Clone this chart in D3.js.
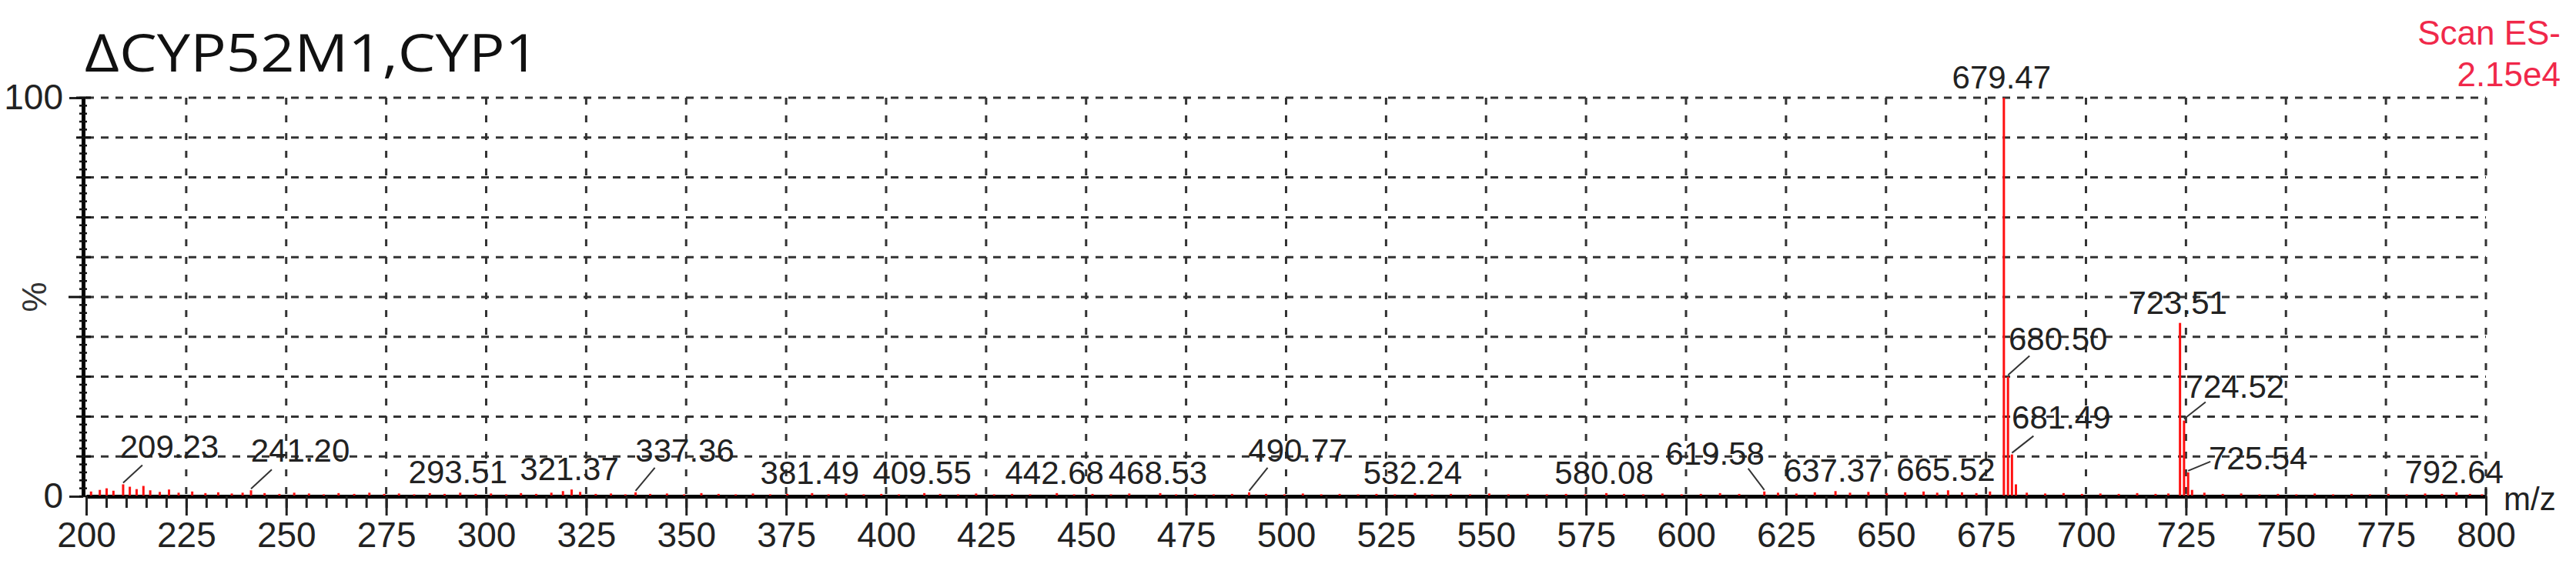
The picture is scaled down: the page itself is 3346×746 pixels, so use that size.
<!DOCTYPE html>
<html>
<head>
<meta charset="utf-8">
<script src="https://cdn.jsdelivr.net/npm/d3@7"></script>
<style>
  body { margin: 0; background: #fff; }
  .tick text { font-family: Arial, "Liberation Sans", sans-serif; }
  .peaklab { font-family: Arial, "Liberation Sans", sans-serif; font-size: 42px; fill: #222; }
</style>
</head>
<body>
<div id="chart"></div>
<script>
// spectrum, m/z and relative intensity (%)
var peakMz  = [679.47, 680.50, 681.49, 682.48, 723.51, 724.52, 725.54, 726.52];
var peakInt = [100,    30,     10.5,   3,      43.5,   19,     6,      1.6];

// small peaks along the baseline
var noiseMz  = [201.2, 203.4, 205.1, 206.8, 209.23, 210.9, 212.6, 214.3, 216.0, 218.4, 220.7, 223.1, 226.5, 229.8,
                233.0, 236.4, 239.1, 241.20, 244.6, 248.3, 252.0, 255.7, 259.4, 263.1, 267.0, 270.8, 274.5, 278.2,
                282.0, 285.9, 289.6, 293.51, 297.4, 301.2, 305.0, 308.7, 312.5, 316.3, 319.2, 321.37, 323.5, 327.4,
                331.2, 334.8, 337.36, 341.0, 345.2, 349.5, 353.8, 358.1, 362.4, 366.7, 371.0, 375.3, 381.49, 385.6,
                390.0, 394.4, 398.8, 403.2, 409.55, 413.5, 418.0, 422.5, 427.0, 431.5, 436.0, 442.68, 447.0, 451.6,
                456.2, 460.8, 468.53, 472.5, 477.2, 481.9, 486.5, 490.77, 495.0, 499.6, 504.2, 508.8, 513.4, 518.0,
                522.6, 527.2, 532.24, 536.5, 541.2, 546.0, 550.8, 555.6, 560.4, 565.2, 570.0, 574.8, 580.08, 584.5,
                589.3, 594.1, 598.9, 603.7, 608.5, 613.3, 619.58, 623.0, 627.6, 632.2, 637.37, 641.0, 645.6, 650.2,
                654.8, 659.4, 662.8, 665.52, 669.0, 672.6, 676.0, 685.2, 689.8, 694.4, 699.0, 703.6, 708.2, 712.8,
                717.4, 720.6, 729.6, 734.2, 738.8, 743.4, 748.0, 752.6, 757.2, 761.8, 766.4, 771.0, 775.6, 780.2,
                784.8, 789.0, 792.64, 796.0, 799.0];
var noiseInt = [1.2, 1.6, 2.0, 1.4, 3.0, 2.4, 1.8, 2.6, 1.5, 1.1, 1.7, 0.9, 1.2, 0.8,
                1.0, 0.7, 0.9, 1.5, 0.8, 0.6, 0.9, 0.7, 0.5, 0.8, 0.6, 0.9, 0.6, 0.7,
                0.5, 0.8, 0.6, 0.9, 0.6, 0.7, 0.5, 0.8, 0.6, 0.9, 1.3, 1.7, 1.1, 0.6,
                0.7, 0.5, 1.0, 0.6, 0.7, 0.5, 0.8, 0.6, 0.5, 0.7, 0.5, 0.6, 0.8, 0.5,
                0.7, 0.5, 0.6, 0.5, 0.8, 0.6, 0.5, 0.7, 0.5, 0.6, 0.5, 0.8, 0.5, 0.6,
                0.5, 0.7, 0.8, 0.5, 0.6, 0.5, 0.6, 1.0, 0.6, 0.5, 0.7, 0.5, 0.6, 0.5,
                0.6, 0.5, 0.8, 0.5, 0.6, 0.5, 0.7, 0.5, 0.6, 0.5, 0.6, 0.5, 0.8, 0.6,
                0.5, 0.7, 0.5, 0.6, 0.8, 0.6, 1.2, 0.9, 0.7, 1.0, 1.3, 0.9, 1.1, 0.8,
                1.0, 1.2, 0.9, 1.5, 1.0, 0.8, 1.2, 0.9, 0.7, 0.8, 0.6, 0.7, 0.6, 0.8,
                0.6, 0.7, 0.9, 0.6, 0.7, 0.5, 0.6, 0.5, 0.7, 0.5, 0.6, 0.5, 0.6, 0.5,
                0.7, 0.6, 1.0, 0.6, 0.5];

// annotated peaks
var labelMz = [209.23, 241.20, 293.51, 321.37, 337.36, 381.49, 409.55, 442.68, 468.53, 490.77, 532.24, 580.08,
               619.58, 637.37, 665.52, 679.47, 680.50, 681.49, 723.51, 724.52, 725.54, 792.64];

var xTicks = d3.range(200, 801, 25);
var xMinor = d3.range(200, 801, 5);
var yGrid = d3.range(10, 101, 10);
var yMinor = d3.range(0, 101, 2);

var title = "ΔCYP52M1,CYP1";
var scanText = ["Scan ES-", "2.15e4"];

var width = 3346, height = 746;

var x = d3.scaleLinear().domain([200, 800]).range([112, 3229]);
var y = d3.scaleLinear().domain([0, 100]).range([645, 127]);

var svg = d3.select("#chart")
    .append("svg")
        .attr("width", width)
        .attr("height", height)
        .style("background", "#fff");

// all peaks together
var peaks = [];
noiseMz.forEach(function(m, i) { peaks.push({mz: m, v: noiseInt[i]}); });
peakMz.forEach(function(m, i) { peaks.push({mz: m, v: peakInt[i]}); });
function intensityAt(m) {
    var p = peaks.find(function(d) { return Math.abs(d.mz - m) < 0.001; });
    return p ? p.v : 0;
}

// grid
svg.append("g").selectAll("line")
    .data(yGrid)
    .enter().append("line")
        .attr("x1", x(200)).attr("x2", x(800))
        .attr("y1", function(d) { return y(d); })
        .attr("y2", function(d) { return y(d); })
        .attr("stroke", "#333")
        .attr("stroke-width", 3)
        .attr("stroke-dasharray", "10,9");

svg.append("g").selectAll("line")
    .data(xTicks.slice(1))
    .enter().append("line")
        .attr("x1", function(d) { return x(d); })
        .attr("x2", function(d) { return x(d); })
        .attr("y1", y(100)).attr("y2", y(0))
        .attr("stroke", "#333")
        .attr("stroke-width", 3)
        .attr("stroke-dasharray", "9,14");

// x axis
var xAxis = svg.append("g")
    .attr("transform", "translate(0," + y(0) + ")")
    .call(d3.axisBottom(x).tickValues(xTicks).tickSize(25).tickPadding(8).tickSizeOuter(0));
xAxis.select(".domain").attr("stroke", "#000").attr("stroke-width", 5);
xAxis.selectAll(".tick line").attr("stroke", "#222").attr("stroke-width", 3);
xAxis.selectAll(".tick text").attr("font-size", 46).attr("fill", "#222");

svg.append("g")
    .attr("transform", "translate(0," + y(0) + ")")
    .call(d3.axisBottom(x).tickValues(xMinor).tickSize(15).tickFormat("").tickSizeOuter(0))
    .call(function(g) { g.select(".domain").remove(); })
    .selectAll(".tick line").attr("stroke", "#222").attr("stroke-width", 3);

// right end tick goes above axis too
svg.append("line")
    .attr("x1", x(800)).attr("x2", x(800))
    .attr("y1", y(0) - 10).attr("y2", y(0))
    .attr("stroke", "#222").attr("stroke-width", 3);

svg.append("text")
    .attr("x", 3252).attr("y", 663)
    .attr("font-family", "Arial, 'Liberation Sans', sans-serif")
    .attr("font-size", 42).attr("fill", "#222")
    .text("m/z");

// y axis
var yAxis = svg.append("g")
    .attr("transform", "translate(108,0)")
    .call(d3.axisLeft(y).tickValues([0, 100]).tickSize(18).tickPadding(8).tickSizeOuter(0));
yAxis.select(".domain").attr("stroke", "#000").attr("stroke-width", 5);
yAxis.selectAll(".tick line").attr("stroke", "#222").attr("stroke-width", 3);
yAxis.selectAll(".tick text").attr("font-size", 46).attr("fill", "#222");

svg.append("g").selectAll("line")
    .data(yMinor)
    .enter().append("line")
        .attr("x1", 103).attr("x2", 113)
        .attr("y1", function(d) { return y(d); })
        .attr("y2", function(d) { return y(d); })
        .attr("stroke", "#111").attr("stroke-width", 2.5);

svg.append("g").selectAll("line")
    .data(yGrid)
    .enter().append("line")
        .attr("x1", function(d) { return d === 50 ? 89 : 99; })
        .attr("x2", 118)
        .attr("y1", function(d) { return y(d); })
        .attr("y2", function(d) { return y(d); })
        .attr("stroke", "#111").attr("stroke-width", 3);

svg.append("text")
    .attr("transform", "translate(60," + y(50) + ") rotate(-90)")
    .attr("text-anchor", "middle")
    .attr("font-family", "Arial, 'Liberation Sans', sans-serif")
    .attr("font-size", 44).attr("fill", "#333")
    .text("%");

// spectrum sticks
svg.append("g").selectAll("line")
    .data(peaks)
    .enter().append("line")
        .attr("x1", function(d) { return x(d.mz); })
        .attr("x2", function(d) { return x(d.mz); })
        .attr("y1", y(0) - 1)
        .attr("y2", function(d) { return y(d.v); })
        .attr("stroke", "#ff1010")
        .attr("stroke-width", 3);

// label placement: [dx, dy, leader dx, leader dy] from the peak top, in px
var nudge = {
    "209.23": [60, -34, 25, -25],
    "241.20": [64, -37, 27, -27],
    "337.36": [64, -40, 25, -32],
    "490.77": [63, -40, 24, -32],
    "619.58": [-64, -35, -21, -30],
    "680.50": [65, -35, 28, -27],
    "681.49": [64, -34, 28, -24],
    "724.52": [66, -30, 28, -24],
    "725.54": [91, -4, 29, -14]
};

var labs = svg.append("g");
labelMz.forEach(function(m) {
    var key = m.toFixed(2);
    var px = x(m), py = y(intensityAt(m));
    var n = nudge[key];
    var dx = n ? n[0] : -3, dy = n ? n[1] : -12;
    labs.append("text")
        .attr("class", "peaklab")
        .attr("x", px + dx)
        .attr("y", py + dy)
        .attr("text-anchor", "middle")
        .text(key);
    if (n) {
        labs.append("line")
            .attr("x1", px + n[2]).attr("y1", py + n[3])
            .attr("x2", px).attr("y2", py - 2)
            .attr("stroke", "#333").attr("stroke-width", 2);
    }
});

// title and scan info
svg.append("text")
    .attr("x", 110).attr("y", 93)
    .attr("font-family", "'Open Sans', 'Noto Sans', sans-serif")
    .attr("font-size", 68).attr("fill", "#111")
    .attr("textLength", 590)
    .attr("lengthAdjust", "spacingAndGlyphs")
    .text(title);

svg.append("g").selectAll("text")
    .data(scanText)
    .enter().append("text")
        .attr("x", 3326)
        .attr("y", function(d, i) { return 58 + i * 54; })
        .attr("text-anchor", "end")
        .attr("font-family", "Arial, 'Liberation Sans', sans-serif")
        .attr("font-size", 44)
        .attr("fill", "#f0284a")
        .text(function(d) { return d; });
</script>
</body>
</html>
